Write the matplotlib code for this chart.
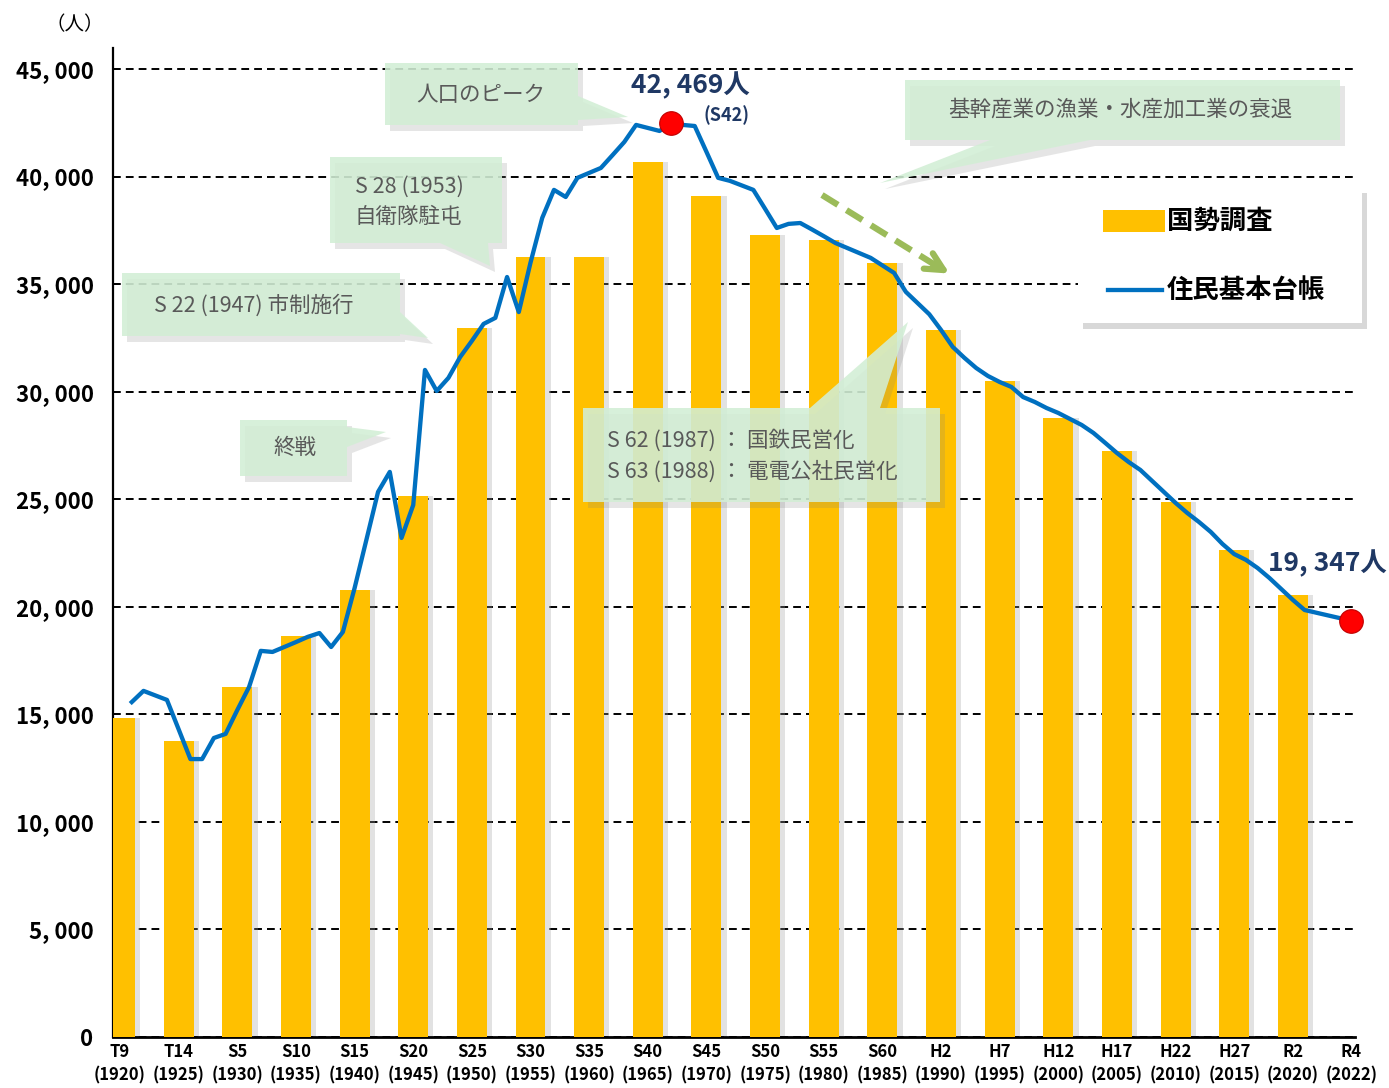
import numpy as np
import matplotlib
matplotlib.use("Agg")
import matplotlib.pyplot as plt
import matplotlib.transforms as mtransforms
from matplotlib.patches import Polygon, Rectangle, FancyArrowPatch
from matplotlib.lines import Line2D

plt.rcParams['font.family'] = ['Noto Sans CJK JP', 'DejaVu Sans']

# census (国勢調査), every 5 years + R4 slot
bar_labels = ['T9', 'T14', 'S5', 'S10', 'S15', 'S20', 'S25', 'S30', 'S35', 'S40', 'S45',
              'S50', 'S55', 'S60', 'H2', 'H7', 'H12', 'H17', 'H22', 'H27', 'R2', 'R4']
bar_years = [1920, 1925, 1930, 1935, 1940, 1945, 1950, 1955, 1960, 1965, 1970,
             1975, 1980, 1985, 1990, 1995, 2000, 2005, 2010, 2015, 2020, 2022]
census = [14830, 13760, 16270, 18640, 20780, 25150, 32960, 36260, 36260, 40680, 39100,
          37290, 37050, 35980, 32870, 30500, 28780, 27240, 24870, 22640, 20550]

# resident register (住民基本台帳), yearly 1921-2022
line_years = np.arange(1921, 2023)
registry = [15570, 16090, 15880, 15670, 14300, 12920, 12920, 13900, 14090, 15200,   # 1921-1930
            16270, 17950, 17900, 18130, 18360, 18600, 18780, 18130, 18830, 20870,   # 1931-1940
            23100, 25340, 26270, 23200, 24730, 31010, 30030, 30640, 31610, 32360,   # 1941-1950
            33150, 33430, 35330, 33700, 36000, 38080, 39380, 39050, 39940, 40170,   # 1951-1960
            40400, 41000, 41610, 42400, 42260, 42120, 42469, 42400, 42350, 41150,   # 1961-1970
            39940, 39800, 39590, 39380, 38500, 37610, 37800, 37840, 37540, 37230,   # 1971-1980
            36910, 36680, 36450, 36220, 35870, 35520, 34640, 34120, 33600, 32870,   # 1981-1990
            32080, 31570, 31100, 30730, 30450, 30220, 29750, 29520, 29240, 29010,   # 1991-2000
            28730, 28450, 28080, 27620, 27150, 26730, 26360, 25850, 25340, 24830,   # 2001-2010
            24360, 23940, 23480, 22920, 22450, 22180, 21800, 21340, 20830, 20320,   # 2011-2020
            19850, 19347]                                                           # 2021-2022

navy = '#1F3864'
blue = '#0070C0'
gold = '#FFC000'

fig = plt.figure(figsize=(13.89, 10.88), dpi=100)
img = mtransforms.Affine2D().scale(1 / 1389, -1 / 1088).translate(0, 1) + fig.transFigure
ax = fig.add_axes([113 / 1389, 51 / 1088, 1242 / 1389, 989 / 1088])

xb = np.arange(len(census))
ax.bar(xb + 0.09, census, width=0.51, color='#a0a0a0', alpha=0.3, zorder=2, linewidth=0)
ax.bar(xb, census, width=0.51, color=gold, zorder=3, linewidth=0)

line_pos = (line_years - 1920) / 5.0
line_pos[-1] = len(bar_labels) - 1
ax.plot(line_pos, registry, color=blue, lw=3.1, zorder=4, solid_joinstyle='round')

peak = int(np.argmax(registry))
for i in (peak, len(registry) - 1):
    ax.plot(line_pos[i], registry[i], 'o', color='#FF0000', markeredgecolor='#C00000',
            markeredgewidth=0.8, markersize=17, zorder=6, clip_on=False)

ax.annotate('{:,}'.format(registry[peak]).replace(',', ', ') + '人',
            (line_pos[peak], registry[peak]), xytext=(14, 27), textcoords='offset points',
            ha='center', va='center', fontsize=19, fontweight='bold', color=navy)
ax.annotate('(S42)', (line_pos[peak], registry[peak]), xytext=(40, 6), textcoords='offset points',
            ha='center', va='center', fontsize=13, fontweight='bold', color=navy)
ax.annotate('{:,}'.format(registry[-1]).replace(',', ', ') + '人',
            (line_pos[-1], registry[-1]), xytext=(-17, 41), textcoords='offset points',
            ha='center', va='center', fontsize=19, fontweight='bold', color=navy)

ax.set_xlim(-0.12, 21.06)
ax.set_ylim(0, 45976)
yt = np.arange(0, 45001, 5000)
ax.set_yticks(yt)
ax.set_yticklabels(['{:,}'.format(v).replace(',', ', ') for v in yt], fontsize=16, fontweight='bold')
ax.set_xticks(np.arange(len(bar_labels)))
ax.set_xticklabels(['%s\n(%d)' % (l, y) for l, y in zip(bar_labels, bar_years)],
                   fontsize=12, fontweight='bold', linespacing=1.45)
ax.tick_params(axis='x', length=0, pad=4)
ax.tick_params(axis='y', direction='in', length=5, width=1.2, pad=14)
ax.yaxis.grid(True, color='black', linestyle=(0, (4, 2.6)), linewidth=1.4)
ax.set_axisbelow(True)
for s in ('top', 'right'):
    ax.spines[s].set_visible(False)
ax.spines['left'].set_linewidth(1.6)
ax.spines['bottom'].set_linewidth(2.0)

fig.text(75, 25, '（人）', transform=img, ha='center', va='center', fontsize=14)


def callout(box, edge, a, b, tip, text, tx, ty, ha='center'):
    x0, y0, x1, y1 = box
    if edge == 'right':
        pts = [(x0, y0), (x1, y0), (x1, a), tip, (x1, b), (x1, y1), (x0, y1)]
    elif edge == 'bottom':
        pts = [(x0, y0), (x1, y0), (x1, y1), (b, y1), tip, (a, y1), (x0, y1)]
    else:
        pts = [(x0, y0), (a, y0), tip, (b, y0), (x1, y0), (x1, y1), (x0, y1)]
    sh = [(px + 5, py + 6) for px, py in pts]
    fig.add_artist(Polygon(sh, closed=True, transform=img, facecolor='#7f7f7f',
                           alpha=0.2, edgecolor='none'))
    fig.add_artist(Polygon(pts, closed=True, transform=img, facecolor='#d2eed5',
                           alpha=0.88, edgecolor='none'))
    fig.text(tx, ty, text, transform=img, ha=ha, va='center', fontsize=15.5,
             color='#595959', linespacing=1.45)


callout((385, 63, 578, 125), 'right', 96, 120, (628, 117), '人口のピーク', 481, 95)
callout((330, 157, 502, 243), 'bottom', 440, 488, (490, 266), 'S 28 (1953)\n自衛隊駐屯', 355, 202, ha='left')
callout((122, 273, 400, 336), 'right', 312, 334, (428, 338), 'S 22 (1947) 市制施行', 254, 306)
callout((240, 420, 347, 476), 'right', 427, 447, (386, 432), '終戦', 295, 448)
callout((583, 408, 940, 502), 'top', 810, 880, (908, 322),
        'S 62 (1987) ： 国鉄民営化\nS 63 (1988) ： 電電公社民営化', 607, 456, ha='left')
callout((905, 80, 1340, 140), 'bottom', 990, 1090, (880, 183), '基幹産業の漁業・水産加工業の衰退', 1120, 110)

# green dashed trend arrow
fig.add_artist(Line2D([822, 940], [195, 268], transform=img, color='#9BBB59', lw=4.5,
                      linestyle=(0, (3, 1.6))))
fig.add_artist(FancyArrowPatch((930, 262), (952, 275), transform=img, color='#9BBB59',
                               lw=4.5, arrowstyle='->', mutation_scale=32))

# legend
fig.add_artist(Rectangle((1083, 193), 284, 136, transform=img, facecolor='#7f7f7f',
                         alpha=0.3, edgecolor='none'))
fig.add_artist(Rectangle((1078, 187), 284, 136, transform=img, facecolor='white', edgecolor='none'))
fig.add_artist(Rectangle((1103, 210), 62, 22, transform=img, facecolor=gold, edgecolor='none'))
fig.add_artist(Line2D([1108, 1162], [290, 290], transform=img, color=blue, lw=3.1))
fig.text(1167, 221, '国勢調査', transform=img, ha='left', va='center', fontsize=19, fontweight='bold')
fig.text(1167, 290, '住民基本台帳', transform=img, ha='left', va='center', fontsize=19, fontweight='bold')

fig.savefig('out.png', dpi=100)
